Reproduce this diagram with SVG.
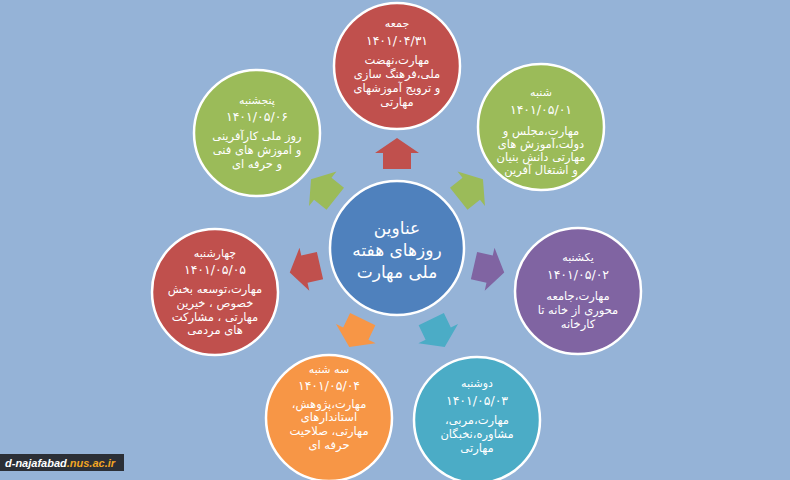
<svg xmlns="http://www.w3.org/2000/svg" width="790" height="480" viewBox="0 0 790 480">
<style>
.bg{fill:#95b3d7}
.c{stroke:#ffffff;stroke-width:2.5}
.t{font-family:"DejaVu Sans",sans-serif;fill:#ffffff;text-anchor:middle;direction:rtl;unicode-bidi:embed}
.d{font-size:11px}
.n{font-size:12.5px;letter-spacing:1px}
.b{font-size:11.5px}
.ctr{font-size:17px}
.red{fill:#c0504d}.grn{fill:#9bbb59}.pur{fill:#8064a2}.teal{fill:#4bacc6}.org{fill:#f79646}.blu{fill:#4f81bd}
</style>
<defs>
<polygon id="arr" points="0,-110 22,-95 14,-95 14,-79 -14,-79 -14,-95 -22,-95"/>
</defs>
<rect class="bg" x="0" y="0" width="790" height="480"/>
<g id="connectors">
<use href="#arr" class="red" transform="translate(397,248)"/>
<use href="#arr" class="grn" transform="translate(397,248) rotate(51.4)"/>
<use href="#arr" class="pur" transform="translate(397,248) rotate(102.9)"/>
<use href="#arr" class="teal" transform="translate(397,248) rotate(154.3)"/>
<use href="#arr" class="org" transform="translate(397,248) rotate(205.7)"/>
<use href="#arr" class="red" transform="translate(397,248) rotate(257.1)"/>
<use href="#arr" class="grn" transform="translate(397,248) rotate(308.6)"/>
</g>
<g id="center">
<circle class="c blu" cx="397" cy="248" r="67"/>
<text class="t ctr" x="397" y="234">عناوین</text>
<text class="t ctr" x="397" y="256">روزهای  هفته</text>
<text class="t ctr" x="397" y="278">ملی مهارت</text>
</g>
<g id="friday">
<circle class="c red" cx="397" cy="66" r="63"/>
<text class="t d" x="397" y="27">جمعه</text>
<text class="t n" x="397" y="45">۱۴۰۱/۰۴/۳۱</text>
<text class="t b" x="397" y="64">مهارت،نهضت</text>
<text class="t b" x="397" y="78">ملی،فرهنگ سازی</text>
<text class="t b" x="397" y="92">و ترویج آموزشهای</text>
<text class="t b" x="397" y="106">مهارتی</text>
</g>
<g id="saturday">
<circle class="c grn" cx="541" cy="127" r="63"/>
<text class="t d" x="541" y="96">شنبه</text>
<text class="t n" x="541" y="114">۱۴۰۱/۰۵/۰۱</text>
<text class="t b" x="541" y="135">مهارت،مجلس و</text>
<text class="t b" x="541" y="148">دولت،آموزش های</text>
<text class="t b" x="541" y="161">مهارتی دانش بنیان</text>
<text class="t b" x="541" y="174">و اشتغال آفرین</text>
</g>
<g id="sunday">
<circle class="c pur" cx="578" cy="291" r="63"/>
<text class="t d" x="578" y="261">یکشنبه</text>
<text class="t n" x="578" y="279">۱۴۰۱/۰۵/۰۲</text>
<text class="t b" x="578" y="300">مهارت،جامعه</text>
<text class="t b" x="578" y="314">محوری از خانه تا</text>
<text class="t b" x="578" y="328">کارخانه</text>
</g>
<g id="monday">
<circle class="c teal" cx="477" cy="420" r="63"/>
<text class="t d" x="477" y="387">دوشنبه</text>
<text class="t n" x="477" y="405">۱۴۰۱/۰۵/۰۳</text>
<text class="t b" x="477" y="424">مهارت،مربی،</text>
<text class="t b" x="477" y="438">مشاوره،نخبگان</text>
<text class="t b" x="477" y="452">مهارتی</text>
</g>
<g id="tuesday">
<circle class="c org" cx="329" cy="418" r="63"/>
<text class="t d" x="329" y="373">سه شنبه</text>
<text class="t n" x="329" y="390">۱۴۰۱/۰۵/۰۴</text>
<text class="t b" x="329" y="408">مهارت،پژوهش،</text>
<text class="t b" x="329" y="421">استاندارهای</text>
<text class="t b" x="329" y="435">مهارتی، صلاحیت</text>
<text class="t b" x="329" y="449">حرفه ای</text>
</g>
<g id="wednesday">
<circle class="c red" cx="215" cy="292" r="63"/>
<text class="t d" x="215" y="257">چهارشنبه</text>
<text class="t n" x="215" y="274">۱۴۰۱/۰۵/۰۵</text>
<text class="t b" x="215" y="293">مهارت،توسعه بخش</text>
<text class="t b" x="215" y="307">خصوص ، خیرین</text>
<text class="t b" x="215" y="321">مهارتی ، مشارکت</text>
<text class="t b" x="215" y="334">های مردمی</text>
</g>
<g id="thursday">
<circle class="c grn" cx="257" cy="133" r="63"/>
<text class="t d" x="257" y="104">پنجشنبه</text>
<text class="t n" x="257" y="121">۱۴۰۱/۰۵/۰۶</text>
<text class="t b" x="257" y="140">روز ملی کارآفرینی</text>
<text class="t b" x="257" y="154">و اموزش های فنی</text>
<text class="t b" x="257" y="168">و حرفه ای</text>
</g>
<g id="watermark">
<rect x="0" y="454" width="124" height="17" fill="#2b2f36"/>
<text x="5" y="467" font-family="'Liberation Sans',Arial,sans-serif" font-size="11" font-weight="bold" font-style="italic"><tspan fill="#ffffff">d-najafabad</tspan><tspan fill="#f2a623">.nus.ac.ir</tspan></text>
</g>
</svg>
